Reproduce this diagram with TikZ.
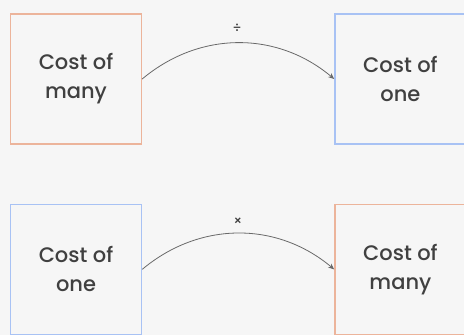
\documentclass[tikz,border=0pt]{standalone}
\usepackage{fontspec}
\setmainfont{Poppins}
\newfontfamily\boxfont{Poppins Medium}
\usepackage{tikz}
\usetikzlibrary{arrows.meta, positioning}

\definecolor{bggray}{RGB}{246,246,246}
\definecolor{manyorange}{RGB}{236,180,155}
\definecolor{oneblue}{RGB}{168,194,244}
\definecolor{txtgray}{RGB}{64,64,64}
\definecolor{arrgray}{RGB}{105,105,105}

\begin{document}
\begin{tikzpicture}[
    x=1pt, y=1pt,
    every node/.style={color=txtgray},
    box/.style={draw, rectangle, minimum height=130pt, minimum width=131pt,
                align=center, inner sep=2pt, line width=1.4pt,
                font=\boxfont\fontsize{21}{29}\selectfont},
    many/.style={box, draw=manyorange},
    one/.style={box, draw=oneblue},
    opsign/.style={font=\boxfont\fontsize{13}{13}\selectfont},
    arrow/.style={-{Stealth[length=6pt, width=5pt]}, color=arrgray, line width=0.8pt,
                  bend left=40}
]

% background and page frame
\fill[bggray] (0,0) rectangle (464,335);
\useasboundingbox (0,0) rectangle (464,335);

% =========================================================
% TOP: many -> one (divide)
% =========================================================
\node[many] (manyA) at (76,256) {Cost of\\many};
\node[one, right=192pt of manyA] (oneA) {Cost of\\one};

% =========================================================
% BOTTOM: one -> many (multiply)
% =========================================================
\node[one, below=59pt of manyA] (oneB) {Cost of\\one};
\node[many, right=192pt of oneB] (manyB) {Cost of\\many};

% =========================================================
% ARROWS
% =========================================================
\draw[arrow] (manyA.east) to (oneA.west);
\draw[arrow] (oneB.east) to (manyB.west);

% operation signs above the arcs
\node[opsign] (divA) at (237,307) {÷};
\node[opsign] (mulB) at (238,113) {×};

\end{tikzpicture}
\end{document}
